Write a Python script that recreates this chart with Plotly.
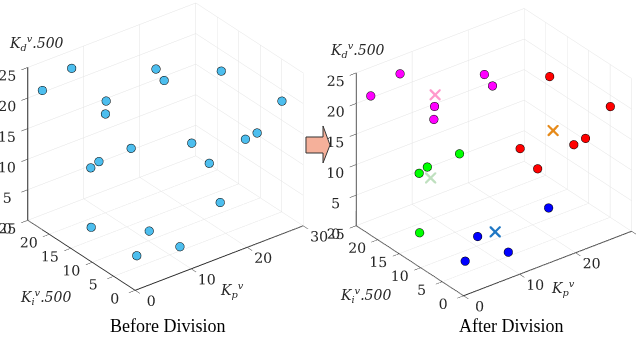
import plotly.graph_objects as go

# ---- data (Kp, Ki, Kd) ----
kp_all = [6.9, 1.9, 8.3, 8.1, 15.2, 15.2, 26.4, 29.1, 28.2, 25.8, 21.2, 21.8,
          15.6, 9.7, 7.7, 22.6, 5.4, 9.7, 11.5, 5.1]
ki_all = [23.8, 24.1, 17.6, 17.5, 15.0, 13.1, 14.4, 3.8, 8.4, 8.0, 14.5, 11.2,
          21.3, 21.1, 20.4, 9.7, 17.3, 9.4, 4.6, 6.3]
kd_all = [23, 21, 20, 18, 24, 23, 20, 19, 12, 12, 10, 8,
          8, 8, 8, 2, 0.5, 2, 1, 1]
cluster = ["m", "m", "m", "m", "m", "m", "r", "r", "r", "r", "r", "r",
           "g", "g", "g", "b", "g", "b", "b", "b"]
cluster_names = ["m", "r", "g", "b"]
cluster_colors = ["#FF00FF", "#FF0000", "#00FF00", "#0000FF"]
centroid_kp = [8.8, 23.8, 10.3, 13.0]
centroid_ki = [18.1, 10.2, 21.1, 9.6]
centroid_kd = [21.5, 14.0, 6.0, 1.5]
centroid_colors = ["#FF99CC", "#E68A1A", "#BFE0BF", "#1F77C4"]

x_ticks = [0, 10, 20, 30]
yz_ticks = [0, 5, 10, 15, 20, 25]

TICKFONT = dict(family="DejaVu Serif", size=13, color="#262626")

fig = go.Figure()

# left: before division
fig.add_trace(go.Scatter3d(
    x=kp_all, y=ki_all, z=kd_all, mode="markers",
    marker=dict(size=5, color="#4DBEEE", line=dict(color="black", width=1)),
    scene="scene", showlegend=False, hoverinfo="skip"))

# right: after division
for name, col in zip(cluster_names, cluster_colors):
    idx = [i for i, c in enumerate(cluster) if c == name]
    fig.add_trace(go.Scatter3d(
        x=[kp_all[i] for i in idx], y=[ki_all[i] for i in idx],
        z=[kd_all[i] for i in idx], mode="markers",
        marker=dict(size=5, color=col, line=dict(color="black", width=1)),
        scene="scene2", showlegend=False, hoverinfo="skip"))
fig.add_trace(go.Scatter3d(
    x=centroid_kp, y=centroid_ki, z=centroid_kd, mode="markers",
    marker=dict(size=2.6, symbol="x", color=centroid_colors),
    scene="scene2", showlegend=False, hoverinfo="skip"))


def axis(rng, ticks, tl):
    return dict(range=rng, tickvals=ticks, title=dict(text=""),
                showbackground=True, backgroundcolor="white",
                gridcolor="#e3e3e3", gridwidth=1,
                showline=True, linecolor="#262626", linewidth=2,
                zeroline=False, showspikes=False, ticks="outside",
                ticklen=tl, tickcolor="#262626", tickfont=TICKFONT,
                tickangle=0, autorange=False)


eye_dir = (-0.527, -0.687, 0.5)
dist = 1.55


def camera(cx, cy, cz):
    return dict(eye=dict(x=eye_dir[0] * dist + cx, y=eye_dir[1] * dist + cy,
                         z=eye_dir[2] * dist + cz),
                up=dict(x=0, y=0, z=1), center=dict(x=cx, y=cy, z=cz),
                projection=dict(type="orthographic"))


k = 1.117
ar = dict(x=1.2 * k, y=k, z=k)

fig.update_layout(
    width=636, height=343, margin=dict(l=0, r=0, t=0, b=0),
    paper_bgcolor="white",
    scene=dict(domain=dict(x=[0.0, 0.52], y=[0.08, 1.0]),
               aspectmode="manual", aspectratio=ar, camera=camera(0, 0, -0.083),
               xaxis=axis([0, 30], x_ticks, 8), yaxis=axis([0, 25], yz_ticks, 8),
               zaxis=axis([0, 25], yz_ticks, 4)),
    scene2=dict(domain=dict(x=[0.505, 1.0], y=[0.08, 1.0]),
                aspectmode="manual", aspectratio=ar,
                camera=camera(-0.0775, 0.0591, -0.043),
                xaxis=axis([0, 30], x_ticks, 8), yaxis=axis([0, 25], yz_ticks, 8),
                zaxis=axis([0, 25], yz_ticks, 4)),
)

W, H = 636, 343


def px(x, y):
    return x / W, 1 - y / H


LABFONT = dict(family="DejaVu Serif", size=14, color="#262626")
kd_txt = "<i>K</i><sub><i>d</i></sub><sup><i>v</i></sup><i>.500</i>"
ki_txt = "<i>K</i><sub><i>i</i></sub><sup><i>v</i></sup><i>.500</i>"
kp_txt = "<i>K</i><sub><i>p</i></sub><sup><i>v</i></sup>"
labels = [
    (36, 43, kd_txt), (45, 297, ki_txt), (232, 290, kp_txt),
    (357, 50, kd_txt), (365, 295, ki_txt), (563, 288, kp_txt),
]
for x, y, t in labels:
    xx, yy = px(x, y)
    fig.add_annotation(x=xx, y=yy, xref="paper", yref="paper", text=t,
                       showarrow=False, font=LABFONT, xanchor="center", yanchor="middle")

for x, t in [(167, "Before Division"), (511, "After Division")]:
    xx, yy = px(x, 326)
    fig.add_annotation(x=xx, y=yy, xref="paper", yref="paper", text=t,
                       showarrow=False, xanchor="center", yanchor="middle",
                       font=dict(family="Liberation Serif", size=18, color="black"))

# arrow between panels
pts = [(306, 137), (323, 137), (323, 126), (330, 145), (323, 163), (323, 153), (306, 153)]
path = "M " + " L ".join(f"{px(a, b)[0]:.4f},{px(a, b)[1]:.4f}" for a, b in pts) + " Z"
fig.add_shape(type="path", path=path, xref="paper", yref="paper",
              fillcolor="#F5B09A", line=dict(color="#333333", width=1))

fig.write_html("out.html")
